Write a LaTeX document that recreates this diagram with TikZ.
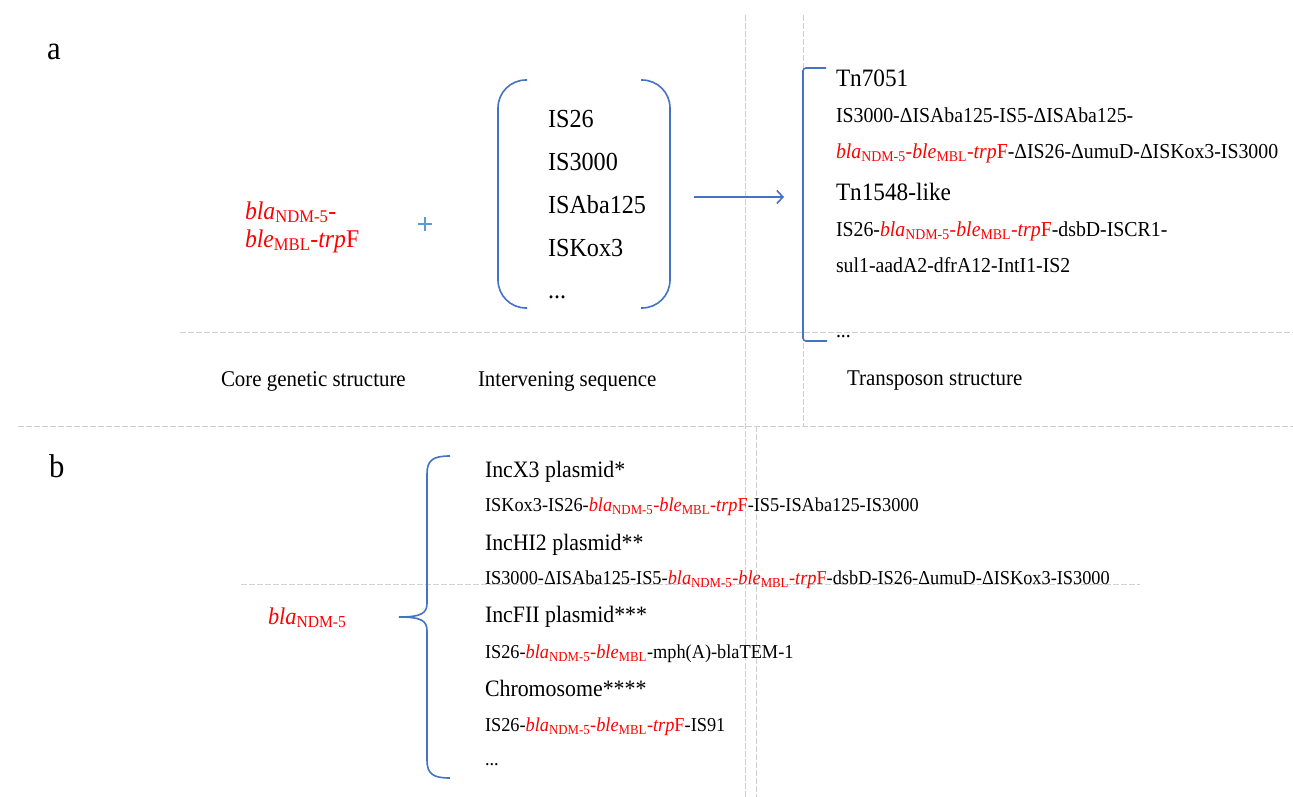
\documentclass[tikz,border=0pt]{standalone}
\usepackage{fontspec}
\setmainfont{Liberation Serif}[FakeStretch=0.93]
\usetikzlibrary{arrows.meta}
\definecolor{lineblue}{HTML}{4472C4}
\definecolor{plusblue}{HTML}{5B9BD5}
\definecolor{sepgray}{HTML}{CFCFCF}
\newcommand\fs[1]{\fontsize{#1}{#1}\selectfont}
\newcommand\gcore{\textcolor{red}{\textit{bla}\textsubscript{NDM-5}-\textit{ble}\textsubscript{MBL}-\textit{trp}F}}
\newcommand\gbb{\textcolor{red}{\textit{bla}\textsubscript{NDM-5}-\textit{ble}\textsubscript{MBL}}}
\begin{document}
\begin{tikzpicture}[x=1pt,y=-1pt,
  txt/.style={anchor=base west,inner sep=0pt,outer sep=0pt},
  panel/.style={txt,font=\fs{33}},
  core/.style={txt,font=\fs{25.5},text=red},
  iseq/.style={txt,font=\fs{26}},
  head/.style={txt,font=\fs{25}},
  gene/.style={txt,font=\fs{21.3}},
  headb/.style={txt,font=\fs{23.5}},
  geneb/.style={txt,font=\fs{19.7}},
  lab/.style={txt,font=\fs{22.5}},
  sepline/.style={draw=sepgray,line width=0.8pt,dash pattern=on 6pt off 2pt},
  blueline/.style={draw=lineblue,line width=1.6pt},
]
\path[use as bounding box] (0,0) rectangle (1293,797);

% separator lines
\path[sepline] (745,15) -- (745,797);
\path[sepline] (803,15) -- (803,426);
\path[sepline] (756,426) -- (756,797);
\path[sepline] (180,332) -- (1293,332);
\path[sepline] (18,426) -- (1293,426);
\path[sepline] (241,584) -- (1140,584);

% panel a
\node[panel] (pa) at (47,60) {a};
\node[core] (core1) at (245,219) {\textit{bla}\textsubscript{NDM-5}-};
\node[core] (core2) at (245,247) {\textit{ble}\textsubscript{MBL}-\textit{trp}F};
\draw[draw=plusblue,line width=1.3pt] (418,224) -- (432,224) (425,217) -- (425,231);

\draw[blueline,rounded corners=28pt] (527,80) -- (498,80) -- (498,308) -- (527,308);
\draw[blueline,rounded corners=28pt] (641,80) -- (670,80) -- (670,308) -- (641,308);
\node[iseq] (is1) at (548,128) {IS26};
\node[iseq] (is2) at (548,171) {IS3000};
\node[iseq] (is3) at (548,213) {ISAba125};
\node[iseq] (is4) at (548,256) {ISKox3};
\node[iseq] (is5) at (548,298) {...};

\coordinate (arrS) at (694,197);
\coordinate (arrE) at (784,197);
\draw[blueline,-{Straight Barb[length=6pt,width=13pt]}] (arrS) -- (arrE);

\draw[blueline,rounded corners=3pt] (826,68) -- (803,68) -- (803,341) -- (827,341);
\node[head] (tn1) at (836,87) {Tn7051};
\node[gene] (tn1a) at (836,123) {IS3000-ΔISAba125-IS5-ΔISAba125-};
\node[gene] (tn1b) at (836,158) {\gcore-ΔIS26-ΔumuD-ΔISKox3-IS3000};
\node[head] (tn2) at (836,200) {Tn1548-like};
\node[gene] (tn2a) at (836,236) {IS26-\gcore-dsbD-ISCR1-};
\node[gene] (tn2b) at (836,272) {sul1-aadA2-dfrA12-IntI1-IS2};
\node[gene] (tn3) at (836,337) {...};

\node[lab] (l1) at (221,386) {Core genetic structure};
\node[lab] (l2) at (478,386) {Intervening sequence};
\node[lab] (l3) at (847,385) {Transposon structure};

% panel b
\node[panel] (pb) at (49,477) {b};
\node[core,font=\fs{24}] (ndm) at (268,624) {\textit{bla}\textsubscript{NDM-5}};
\draw[blueline] (450,456) .. controls (433,456) and (427,460) .. (427,474)
  -- (427,603) .. controls (427,613) and (422,617) .. (399,617)
  .. controls (422,617) and (427,621) .. (427,631)
  -- (427,760) .. controls (427,774) and (433,778) .. (450,778);
\node[headb] (b1) at (485,477) {IncX3 plasmid*};
\node[geneb] (b1a) at (485,511) {ISKox3-IS26-\gcore-IS5-ISAba125-IS3000};
\node[headb] (b2) at (485,550) {IncHI2 plasmid**};
\node[geneb] (b2a) at (485,584) {IS3000-ΔISAba125-IS5-\gcore-dsbD-IS26-ΔumuD-ΔISKox3-IS3000};
\node[headb] (b3) at (485,622) {IncFII plasmid***};
\node[geneb] (b3a) at (485,658) {IS26-\gbb-mph(A)-blaTEM-1};
\node[headb] (b4) at (485,696) {Chromosome****};
\node[geneb] (b4a) at (485,731) {IS26-\gcore-IS91};
\node[geneb] (b5) at (485,765) {...};
\end{tikzpicture}
\end{document}
